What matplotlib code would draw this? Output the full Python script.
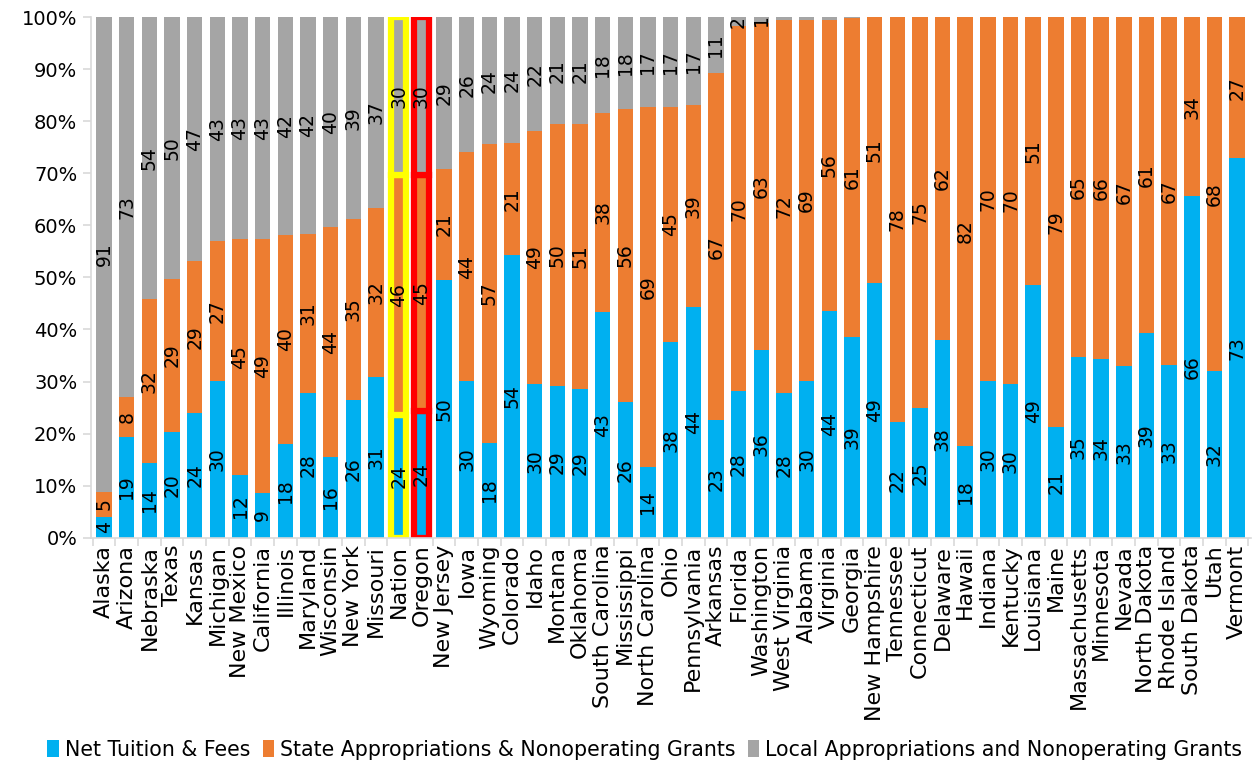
import matplotlib.pyplot as plt
import numpy as np
from matplotlib.ticker import PercentFormatter

states = ['Alaska', 'Arizona', 'Nebraska', 'Texas', 'Kansas', 'Michigan', 'New Mexico',
          'California', 'Illinois', 'Maryland', 'Wisconsin', 'New York', 'Missouri',
          'Nation', 'Oregon', 'New Jersey', 'Iowa', 'Wyoming', 'Colorado', 'Idaho',
          'Montana', 'Oklahoma', 'South Carolina', 'Mississippi', 'North Carolina',
          'Ohio', 'Pennsylvania', 'Arkansas', 'Florida', 'Washington', 'West Virginia',
          'Alabama', 'Virginia', 'Georgia', 'New Hampshire', 'Tennessee', 'Connecticut',
          'Delaware', 'Hawaii', 'Indiana', 'Kentucky', 'Louisiana', 'Maine',
          'Massachusetts', 'Minnesota', 'Nevada', 'North Dakota', 'Rhode Island',
          'South Dakota', 'Utah', 'Vermont']

tuition = [4.0, 19.4, 14.3, 20.4, 24.0, 30.1, 12.1, 8.6, 18.1, 27.8, 15.6, 26.5, 30.9,
           23.6, 24.4, 49.6, 30.1, 18.2, 54.4, 29.6, 29.2, 28.6, 43.4, 26.0, 13.6,
           37.6, 44.3, 22.6, 28.2, 36.1, 27.8, 30.1, 43.6, 38.6, 49.0, 22.2, 25.0,
           38.0, 17.7, 30.2, 29.6, 48.6, 21.2, 34.7, 34.3, 32.9, 39.3, 33.2, 65.6,
           32.1, 72.9]
state = [4.8, 7.6, 31.6, 29.3, 29.2, 26.9, 45.3, 48.8, 40.0, 30.6, 44.1, 34.7, 32.4,
         46.0, 45.3, 21.2, 43.9, 57.4, 21.4, 48.6, 50.2, 50.8, 38.2, 56.4, 69.2,
         45.2, 38.9, 66.6, 70.0, 62.8, 71.7, 69.4, 55.9, 61.2, 51.0, 77.8, 75.0,
         62.0, 82.3, 69.8, 70.4, 51.4, 78.8, 65.3, 65.7, 67.1, 60.7, 66.8, 34.4,
         67.9, 27.1]
local = [91.2, 73.0, 54.1, 50.3, 46.8, 43.0, 42.6, 42.6, 41.9, 41.6, 40.3, 38.8, 36.7,
         30.4, 30.3, 29.2, 26.0, 24.4, 24.2, 21.8, 20.6, 20.6, 18.4, 17.6, 17.2,
         17.2, 16.8, 10.8, 1.8, 1.1, 0.5, 0.5, 0.5, 0.2, 0.0, 0.0, 0.0,
         0.0, 0.0, 0.0, 0.0, 0.0, 0.0, 0.0, 0.0, 0.0, 0.0, 0.0, 0.0,
         0.0, 0.0]

series = [('Net Tuition & Fees', tuition, '#00B0F0'),
          ('State Appropriations & Nonoperating Grants', state, '#ED7D31'),
          ('Local Appropriations and Nonoperating Grants', local, '#A5A5A5')]

highlight = {'Nation': '#FFFF00', 'Oregon': '#FF0000'}
tick_font = 'DejaVu Sans'

fig, ax = plt.subplots(figsize=(12.57, 7.76), dpi=100)
fig.subplots_adjust(left=0.072, right=0.995, top=0.978, bottom=0.307)

x = np.arange(len(states))
bottom = np.zeros(len(states))
for name, vals, col in series:
    vals = np.array(vals)
    bars = ax.bar(x, vals, 0.68, bottom=bottom, color=col, label=name, zorder=2)
    for i, b in enumerate(bars):
        if states[i] in highlight:
            b.set_edgecolor(highlight[states[i]])
            b.set_linewidth(4.5)
        v = int(round(vals[i]))
        if v >= 1:
            ax.text(x[i], bottom[i] + vals[i] / 2, str(v), rotation=90, ha='center',
                    va='center', fontsize=13.5, color='black',
                    family='DejaVu Sans', zorder=3)
    bottom += vals

ax.set_xlim(-0.6, len(states) - 0.4)
ax.set_ylim(0, 100)
ax.set_yticks(np.arange(0, 101, 10))
ax.yaxis.set_major_formatter(PercentFormatter(decimals=0))
ax.set_xticks(x)
ax.set_xticklabels(states, rotation=90, fontsize=16, family=tick_font)
ax.set_xticks(np.arange(-0.5, len(states), 1), minor=True)
ax.tick_params(axis='x', which='major', length=0, pad=5)
ax.tick_params(axis='x', which='minor', length=6, color='#D9D9D9', width=1.2)
ax.tick_params(axis='y', labelsize=14, length=6, color='#D9D9D9', width=1.2)
for lab in ax.get_yticklabels():
    lab.set_family(tick_font)
for s in ['top', 'right']:
    ax.spines[s].set_visible(False)
for s in ['left', 'bottom']:
    ax.spines[s].set_color('#D9D9D9')
    ax.spines[s].set_linewidth(1.2)

fig.legend(loc='lower center', ncol=3, frameon=False,
           handlelength=0.55, handleheight=0.9, handletextpad=0.3, columnspacing=0.6,
           bbox_to_anchor=(0.513, -0.003), prop={'family': tick_font, 'size': 14.8})

fig.savefig('out.png')
